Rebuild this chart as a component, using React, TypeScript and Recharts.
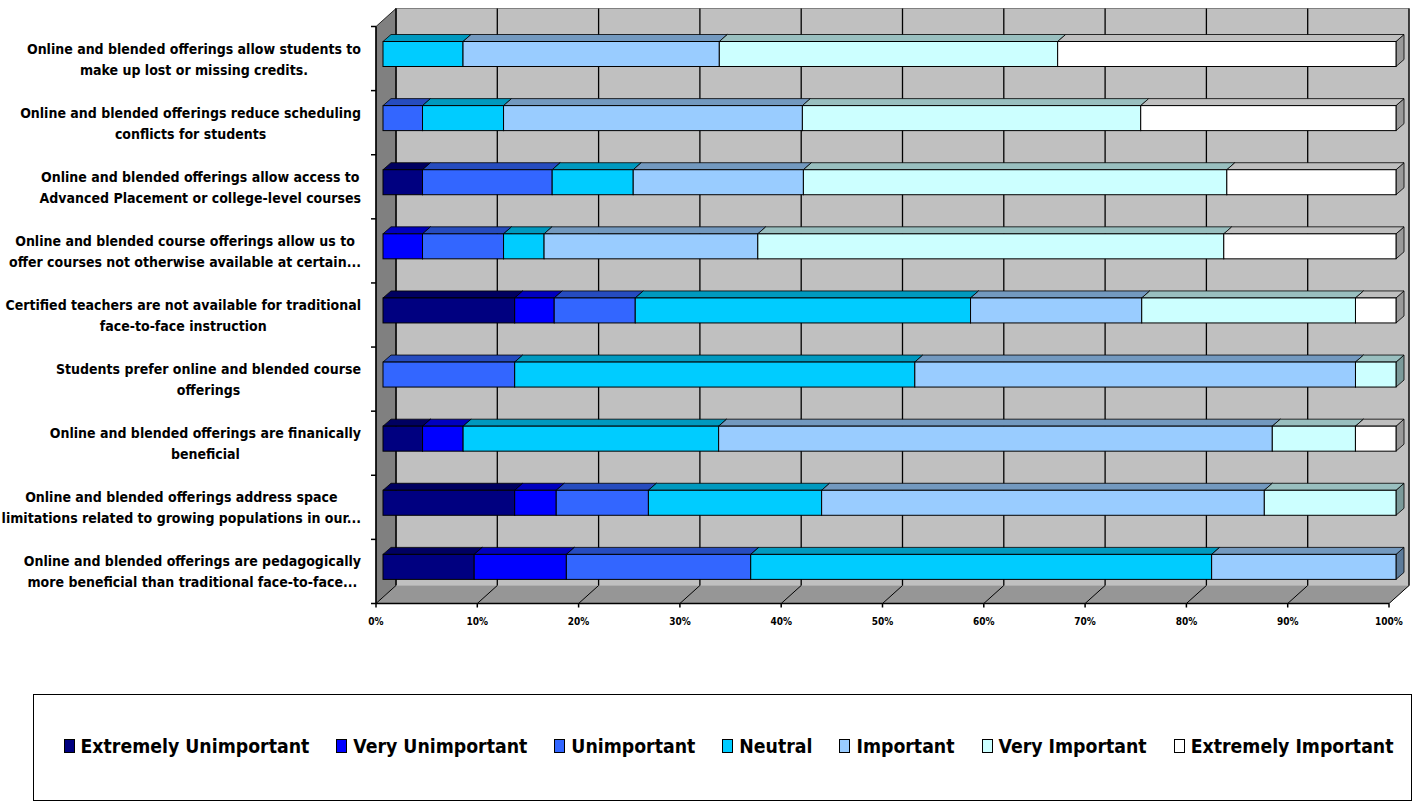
import React from 'react'
import { BarChart, Bar, XAxis, YAxis, CartesianGrid, Legend } from 'recharts'

// survey statements, top to bottom ("\n" marks the label line break)
const categories = [
  'Online and blended offerings allow students to\nmake up lost or missing credits.',
  'Online and blended offerings reduce scheduling\nconflicts for students',
  'Online and blended offerings allow access to\nAdvanced Placement or college-level courses',
  'Online and blended course offerings allow us to\noffer courses not otherwise available at certain...',
  'Certified teachers are not available for traditional\nface-to-face instruction',
  'Students prefer online and blended course\nofferings',
  'Online and blended offerings are finanically\nbeneficial',
  'Online and blended offerings address space\nlimitations related to growing populations in our...',
  'Online and blended offerings are pedagogically\nmore beneficial than traditional face-to-face...',
]

// percent of responses per category
const extremelyUnimportant = [0, 0, 3.9, 0, 13.0, 0, 3.9, 13.0, 9.0]
const veryUnimportant = [0, 0, 0, 3.9, 3.9, 0, 4.0, 4.1, 9.1]
const unimportant = [0, 3.9, 12.8, 8.0, 8.0, 13.0, 0, 9.1, 18.2]
const neutral = [7.9, 8.0, 8.0, 4.0, 33.1, 39.5, 25.2, 17.1, 45.5]
const important = [25.3, 29.5, 16.8, 21.1, 16.9, 43.5, 54.6, 43.7, 18.2]
const veryImportant = [33.4, 33.4, 41.8, 46.0, 21.1, 4.0, 8.2, 13.0, 0]
const extremelyImportant = [33.4, 25.2, 16.7, 17.0, 4.0, 0, 4.0, 0, 0]

const xTicks = [0, 0.1, 0.2, 0.3, 0.4, 0.5, 0.6, 0.7, 0.8, 0.9, 1]

const series = [
  { key: 'eu', name: 'Extremely Unimportant', values: extremelyUnimportant, fill: '#000080', top: '#000060', side: '#00004D' },
  { key: 'vu', name: 'Very Unimportant', values: veryUnimportant, fill: '#0000FF', top: '#0000BF', side: '#000099' },
  { key: 'un', name: 'Unimportant', values: unimportant, fill: '#3366FF', top: '#264CBF', side: '#1F3D99' },
  { key: 'ne', name: 'Neutral', values: neutral, fill: '#00CCFF', top: '#0099BF', side: '#007A99' },
  { key: 'im', name: 'Important', values: important, fill: '#99CCFF', top: '#7399BF', side: '#5C7A99' },
  { key: 'vi', name: 'Very Important', values: veryImportant, fill: '#CCFFFF', top: '#99BFBF', side: '#7A9999' },
  { key: 'ei', name: 'Extremely Important', values: extremelyImportant, fill: '#FFFFFF', top: '#BFBFBF', side: '#999999' },
]

const data = categories.map((name, i) => {
  const row: Record<string, string | number> = { name }
  series.forEach(s => { row[s.key] = s.values[i] })
  return row
})

const CHART_W = 1421
const CHART_H = 801
const MARGIN = { top: 21.5, right: 25, bottom: 172.5, left: 0 }
const Y_AXIS_W = 383
const X_AXIS_H = 30
const PLOT_TOP = MARGIN.top
const PLOT_BOTTOM = CHART_H - MARGIN.bottom - X_AXIS_H
const PLOT_W = CHART_W - MARGIN.right - Y_AXIS_W

// oblique 3D offsets relative to the bar plane
const BACK = { dx: 13, dy: -13 }
const FRONT = { dx: -7, dy: 5 }
const DEPTH = { dx: 8, dy: -7 }

// label blocks are right-aligned at this x, lines centred within the block
const LABEL_RIGHT = 361
const LABEL_SIZE = 14
const FONT = "'DejaVu Sans Condensed', 'DejaVu Sans', sans-serif"

let measureCtx: CanvasRenderingContext2D | null = null
function textWidth(s: string) {
  if (!measureCtx) {
    measureCtx = document.createElement('canvas').getContext('2d')
  }
  if (!measureCtx) return s.length * LABEL_SIZE * 0.55
  measureCtx.font = `bold ${LABEL_SIZE}px ${FONT}`
  return measureCtx.measureText(s).width
}

function Walls({ x0, x1, y0, y1 }: { x0: number; x1: number; y0: number; y1: number }) {
  const B = BACK
  const F = FRONT
  return (
    <g>
      <rect x={x0 + B.dx} y={y0 + B.dy} width={x1 - x0} height={y1 - y0} fill="#C0C0C0" stroke="#808080" />
      <polygon
        points={`${x0 + B.dx},${y0 + B.dy} ${x0 + B.dx},${y1 + B.dy} ${x0 + F.dx},${y1 + F.dy} ${x0 + F.dx},${y0 + F.dy}`}
        fill="#808080"
        stroke="#000"
        strokeWidth={0.8}
      />
      <polygon
        points={`${x0 + B.dx},${y1 + B.dy} ${x1 + B.dx},${y1 + B.dy} ${x1 + F.dx},${y1 + F.dy} ${x0 + F.dx},${y1 + F.dy}`}
        fill="#969696"
        stroke="#B0B0B0"
      />
      <line x1={x0 + F.dx} y1={y0 + F.dy} x2={x0 + F.dx} y2={y1 + F.dy} stroke="#000" strokeWidth={1.5} />
      <line x1={x0 + F.dx} y1={y1 + F.dy} x2={x1 + F.dx} y2={y1 + F.dy} stroke="#000" strokeWidth={1.5} />
    </g>
  )
}

const renderGridLine = (props: any) => {
  const { x1, y1, y2, index } = props
  const w = typeof props.width === 'number' ? props.width : PLOT_W
  const bx = x1 + BACK.dx
  const fx = x1 + FRONT.dx
  return (
    <g key={`grid-${index}`}>
      {index === 0 && <Walls x0={x1} x1={x1 + w} y0={y1} y1={y2} />}
      <line x1={bx} y1={y1 + BACK.dy} x2={bx} y2={y2 + BACK.dy} stroke="#000" strokeWidth={1.3} />
      <line x1={bx} y1={y2 + BACK.dy} x2={fx} y2={y2 + FRONT.dy} stroke="#000" strokeWidth={1} />
    </g>
  )
}

const Bar3D = (props: any) => {
  const { x, y, width, height, fill, top, side } = props
  if (!width || width <= 0) return <g />
  const d = DEPTH
  return (
    <g>
      <polygon
        points={`${x + width},${y} ${x + width + d.dx},${y + d.dy} ${x + width + d.dx},${y + height + d.dy} ${x + width},${y + height}`}
        fill={side}
        stroke="#000"
        strokeWidth={0.8}
      />
      <polygon
        points={`${x},${y} ${x + d.dx},${y + d.dy} ${x + width + d.dx},${y + d.dy} ${x + width},${y}`}
        fill={top}
        stroke="#000"
        strokeWidth={0.8}
      />
      <rect x={x} y={y} width={width} height={height} fill={fill} stroke="#000" strokeWidth={1} />
    </g>
  )
}

const XTick = (props: any) => {
  const { x, y, payload } = props
  const fx = x + FRONT.dx
  const fy = y + FRONT.dy
  return (
    <g>
      <line x1={fx} y1={fy} x2={fx} y2={fy + 4} stroke="#000" strokeWidth={1.5} />
      <text x={fx} y={fy + 21} textAnchor="middle" fontSize={10} fontWeight="bold" fontFamily={FONT} fill="#000">
        {`${Math.round(payload.value * 100)}%`}
      </text>
    </g>
  )
}

const YTick = (props: any) => {
  const { x, y, payload, index } = props
  const lines = String(payload.value).split('\n')
  const band = (PLOT_BOTTOM - PLOT_TOP) / categories.length
  const fx = x + FRONT.dx
  const blockW = Math.max(...lines.map(textWidth))
  const cx = LABEL_RIGHT - blockW / 2
  return (
    <g>
      <line x1={fx - 5} y1={y - band / 2 + FRONT.dy} x2={fx} y2={y - band / 2 + FRONT.dy} stroke="#000" strokeWidth={1.5} />
      {index === categories.length - 1 && (
        <line x1={fx - 5} y1={y + band / 2 + FRONT.dy} x2={fx} y2={y + band / 2 + FRONT.dy} stroke="#000" strokeWidth={1.5} />
      )}
      <text textAnchor="middle" fontSize={LABEL_SIZE} fontWeight="bold" fontFamily={FONT} fill="#000" dominantBaseline="central">
        <tspan x={cx} y={y - 5}>{lines[0]}</tspan>
        {lines[1] && <tspan x={cx} y={y + 16}>{lines[1]}</tspan>}
      </text>
    </g>
  )
}

const renderLegend = (props: any) => {
  const order = series.map(s => s.name)
  const payload = [...(props.payload || [])].sort(
    (a: any, b: any) => order.indexOf(a.value) - order.indexOf(b.value)
  )
  return (
    <div
      style={{
        width: '100%',
        height: '100%',
        boxSizing: 'border-box',
        border: '1.5px solid #000',
        display: 'flex',
        alignItems: 'center',
        justifyContent: 'center',
        gap: 27,
        paddingLeft: 12,
        paddingBottom: 3,
        fontFamily: FONT,
        fontWeight: 'bold',
        fontSize: 19.3,
        color: '#000',
        background: '#fff',
      }}
    >
      {payload.map((entry: any) => (
        <div key={entry.value} style={{ display: 'flex', alignItems: 'center', whiteSpace: 'nowrap' }}>
          <span
            style={{
              display: 'inline-block',
              width: 9,
              height: 12,
              background: entry.color,
              border: '1.5px solid #000',
              marginRight: 6,
            }}
          />
          <span>{entry.value}</span>
        </div>
      ))}
    </div>
  )
}

export default function App() {
  return (
    <div style={{ position: 'absolute', left: 0, top: 0, width: CHART_W, height: CHART_H, background: '#fff' }}>
      <BarChart
        width={CHART_W}
        height={CHART_H}
        data={data}
        layout="vertical"
        stackOffset="expand"
        margin={MARGIN}
        barSize={25}
      >
        <CartesianGrid horizontal={false} vertical={renderGridLine} stroke="#000" />
        <XAxis
          type="number"
          domain={[0, 1]}
          ticks={xTicks}
          height={X_AXIS_H}
          axisLine={false}
          tickLine={false}
          tickSize={0}
          tickMargin={0}
          tick={<XTick />}
          interval={0}
        />
        <YAxis
          type="category"
          dataKey="name"
          width={Y_AXIS_W}
          axisLine={false}
          tickLine={false}
          tickSize={0}
          tickMargin={0}
          tick={<YTick />}
          interval={0}
        />
        <Legend
          layout="horizontal"
          verticalAlign="middle"
          align="center"
          content={renderLegend}
          wrapperStyle={{ left: 33, top: 694, width: 1379, height: 107 }}
        />
        {series.map(s => (
          <Bar
            key={s.key}
            dataKey={s.key}
            name={s.name}
            stackId="a"
            fill={s.fill}
            isAnimationActive={false}
            shape={(p: any) => <Bar3D {...p} top={s.top} side={s.side} />}
          />
        ))}
      </BarChart>
    </div>
  )
}
